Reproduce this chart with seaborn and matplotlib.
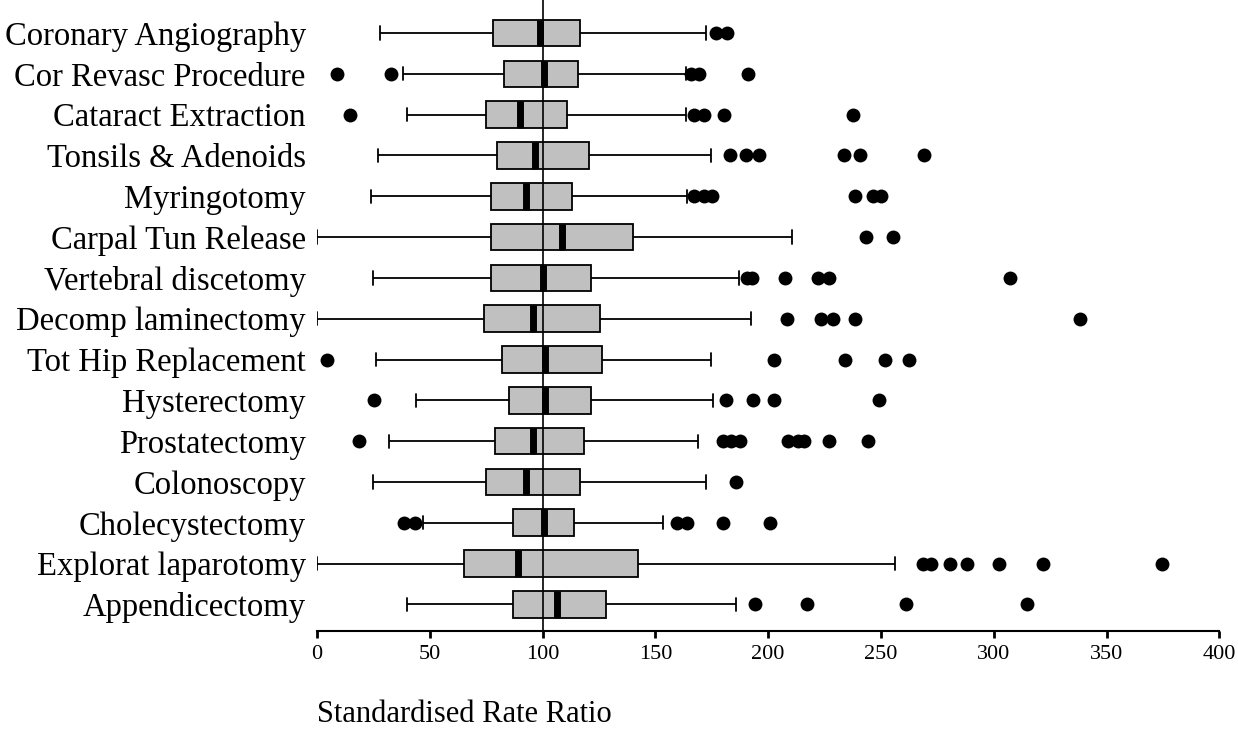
import pandas as pd
import matplotlib.pyplot as plt
import seaborn as sns

procedures = [
    'Coronary Angiography', 'Cor Revasc Procedure', 'Cataract Extraction',
    'Tonsils & Adenoids', 'Myringotomy', 'Carpal Tun Release',
    'Vertebral discetomy', 'Decomp laminectomy', 'Tot Hip Replacement',
    'Hysterectomy', 'Prostatectomy', 'Colonoscopy', 'Cholecystectomy',
    'Explorat laparotomy', 'Appendicectomy',
]
whisker_low = [28, 38, 40, 27, 24, 0, 25, 0, 26, 44, 32, 25, 47, 0, 40]
q1 = [78, 83, 75, 80, 77, 77, 77, 74, 82, 85, 79, 75, 87, 65, 87]
median = [99, 100.6, 90, 96.6, 92.5, 108.7, 100, 95.7, 101.3, 101.3, 95.7, 92.5, 100.6, 89.2, 106.2]
q3 = [116.6, 115.7, 111, 120.4, 113.2, 140, 121.3, 125.3, 126.2, 121.3, 118.3, 116.6, 114, 142.5, 128]
whisker_high = [172.5, 163.5, 163.5, 174.6, 164.2, 210.5, 187, 192.6, 174.6, 175.6, 169, 172.6, 153.6, 256, 185.7]
outliers = [
    [177, 181.7],
    [9, 33, 165.7, 169.4, 191.2],
    [14.5, 167.2, 171.6, 180.2, 237.6],
    [183, 190.3, 196, 233.5, 240.7, 269],
    [167.2, 171.6, 175.3, 238.5, 246.3, 250],
    [243.4, 255.5],
    [190.5, 193, 207.5, 222, 227, 307.3],
    [208.3, 223.4, 228.6, 238.5, 338.3],
    [4.4, 202.7, 234.2, 251.9, 262.6],
    [25.1, 181.5, 193.1, 202.7, 249],
    [18.5, 179.8, 183.4, 187.5, 208.6, 213, 216, 227, 244.1],
    [185.7],
    [38.4, 43.6, 159.8, 164.2, 180, 200.9],
    [268.5, 272.2, 280.6, 288, 302.3, 322, 374.6],
    [194.1, 217.2, 261.1, 314.7],
]
xticks = [0, 50, 100, 150, 200, 250, 300, 350, 400]


def montar_dados():
    linhas_box = []
    linhas_out = []
    for i, nome in enumerate(procedures):
        # five values give exactly the read quartiles and whisker ends
        for v in (whisker_low[i], q1[i], median[i], q3[i], whisker_high[i]):
            linhas_box.append({'procedure': nome, 'value': v})
        for v in outliers[i]:
            linhas_out.append({'procedure': nome, 'value': v})
    return pd.DataFrame(linhas_box), pd.DataFrame(linhas_out)


def plot_boxes(df_box, df_out):
    sns.set_style('white')
    plt.rcParams['font.family'] = ['Liberation Serif', 'DejaVu Serif']
    plt.rcParams['text.color'] = 'black'
    plt.rcParams['xtick.color'] = 'black'
    plt.rcParams['ytick.color'] = 'black'
    plt.rcParams['axes.labelcolor'] = 'black'

    fig = plt.figure(figsize=(12.38, 7.29), dpi=100)
    ax = fig.add_axes([0.256, 0.134, 0.729, 0.866])

    sns.boxplot(data=df_box, x='value', y='procedure', order=procedures,
                whis=(0, 100), width=0.65, color='#c0c0c0', saturation=1,
                linecolor='black', linewidth=1.3, fliersize=0,
                medianprops=dict(linewidth=5, color='black'), ax=ax)
    sns.stripplot(data=df_out, x='value', y='procedure', order=procedures,
                  jitter=False, color='black', size=10, ax=ax, zorder=4)
    ax.axvline(100, color='black', linewidth=1.2, zorder=5)

    ax.set_xlim(0, 400)
    ax.set_ylim(14.66, -0.81)
    ax.set_xticks(xticks)
    ax.set_xticklabels([str(t) for t in xticks], fontsize=16)
    ax.tick_params(axis='x', direction='out', length=5, width=2, pad=5, bottom=True)
    ax.tick_params(axis='y', length=0, labelsize=23.5, pad=8)
    ax.set_ylabel('')
    ax.set_xlabel('Standardised Rate Ratio', fontsize=22, loc='left', labelpad=26)

    for lado in ['top', 'right', 'left']:
        ax.spines[lado].set_visible(False)
    ax.spines['bottom'].set_color('black')
    ax.spines['bottom'].set_linewidth(1.5)

    fig.savefig('out.png', dpi=100)


if __name__ == "__main__":
    df_box, df_out = montar_dados()
    plot_boxes(df_box, df_out)
